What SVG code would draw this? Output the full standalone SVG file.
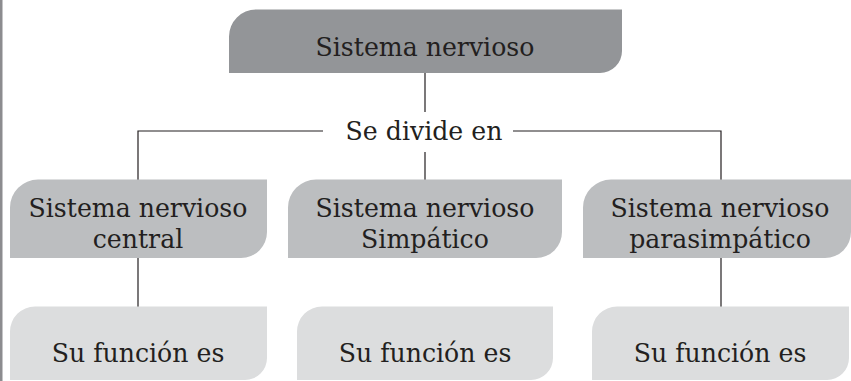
<svg xmlns="http://www.w3.org/2000/svg" width="851" height="381" viewBox="0 0 851 381">
<style>
text{font-family:'DejaVu Serif','Liberation Serif',serif;font-size:25.2px;fill:#231f20;text-anchor:middle}
.c{fill:none;stroke:#231f20;stroke-width:1.2}
.n1{fill:#939598}
.n2{fill:#bcbec0}
.n3{fill:#dcddde}
</style>
<rect x="0" y="0" width="2.5" height="381" fill="#8c8c8f"/>
<g id="connectors">
<path class="c" d="M425,73 V112"/>
<path class="c" d="M425,152 V180"/>
<path class="c" d="M323,131 H138 V180"/>
<path class="c" d="M513,131 H721 V180"/>
<path class="c" d="M138,258 V307"/>
<path class="c" d="M721,258 V307"/>
<text x="424" y="140">Se divide en</text>
</g>
<g id="sistema-nervioso">
<path class="n1" d="M229,36.5 A27,27 0 0 1 256,9.5 H622 V51 A22,22 0 0 1 600,73 H229 Z"/>
<text x="425" y="55.7">Sistema nervioso</text>
</g>
<g id="snc">
<path class="n2" d="M10,207.5 A28,28 0 0 1 38,179.5 H267 V232 A26,26 0 0 1 241,258 H10 Z"/>
<text x="138" y="216.7">Sistema nervioso</text>
<text x="138" y="248">central</text>
</g>
<g id="sns">
<path class="n2" d="M288,207.5 A28,28 0 0 1 316,179.5 H562 V232 A26,26 0 0 1 536,258 H288 Z"/>
<text x="425" y="216.7">Sistema nervioso</text>
<text x="425" y="248">Simpático</text>
</g>
<g id="snp">
<path class="n2" d="M583,207.5 A28,28 0 0 1 611,179.5 H851 V232 A26,26 0 0 1 825,258 H583 Z"/>
<text x="720" y="216.7">Sistema nervioso</text>
<text x="720" y="248">parasimpático</text>
</g>
<g id="funcion-central">
<path class="n3" d="M10,331.5 A25,25 0 0 1 35,306.5 H267 V358 A22,22 0 0 1 245,380 H10 Z"/>
<text x="138" y="361.7">Su función es</text>
</g>
<g id="funcion-simpatico">
<path class="n3" d="M297,331.5 A25,25 0 0 1 322,306.5 H553 V358 A22,22 0 0 1 531,380 H297 Z"/>
<text x="425" y="361.7">Su función es</text>
</g>
<g id="funcion-parasimpatico">
<path class="n3" d="M592,331.5 A25,25 0 0 1 617,306.5 H849 V358 A22,22 0 0 1 827,380 H592 Z"/>
<text x="720" y="361.7">Su función es</text>
</g>
</svg>
